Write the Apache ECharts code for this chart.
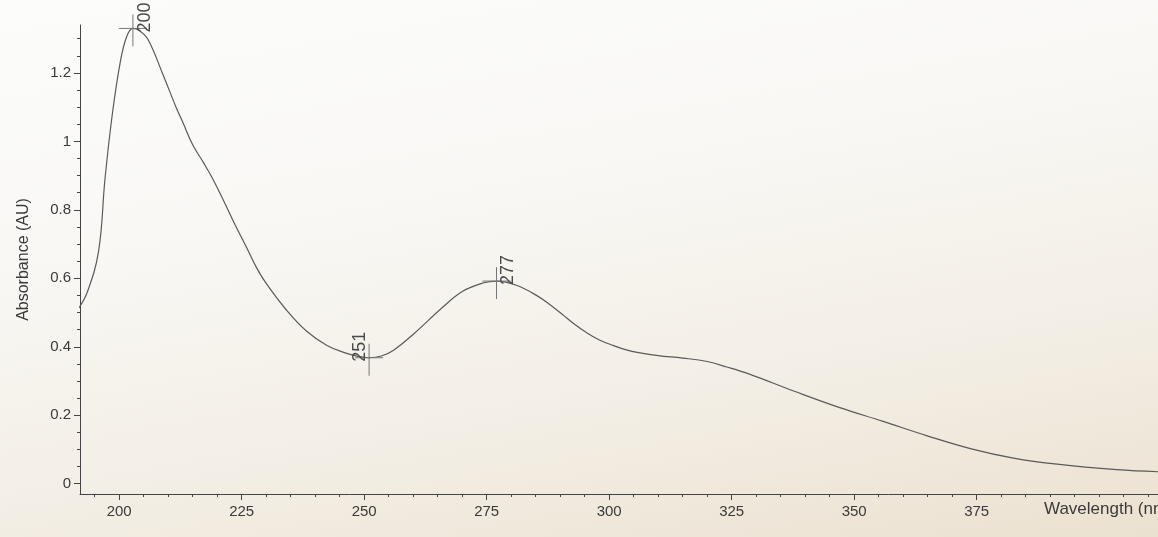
<!DOCTYPE html>
<html>
<head>
<meta charset="utf-8">
<script src="https://cdn.jsdelivr.net/npm/echarts@6/dist/echarts.min.js"></script>
<style>
  html, body { margin: 0; padding: 0; }
  body {
    width: 1158px; height: 537px; overflow: hidden;
    background: linear-gradient(170deg, #fcfcfb 0%, #f9f8f5 35%, #f3eee5 70%, #ebe1d0 100%);
  }
  #chart { width: 1158px; height: 537px; }
</style>
</head>
<body>
<div id="chart"></div>
<script>
// ---- data ----
var wavelengths = [191.6, 193.5, 195.8, 197.1, 198.6, 200.2, 201.5, 202.8, 204.0, 205.8,
  208.8, 211.6, 213.0, 215.0, 217.2, 219.0, 221.6, 223.8, 226.0, 228.0,
  230.0, 234.2, 238.2, 242.4, 246.6, 248.5, 251.0, 253.5, 256.0, 260.2,
  265.9, 270.1, 274.4, 277.0, 281.2, 285.4, 288.0, 290.4, 293.0, 295.2,
  298.0, 300.8, 303.5, 306.0, 310.0, 315.0, 320.0, 324.0, 328.6, 337.8,
  346.9, 355.9, 364.9, 373.9, 382.5, 391.4, 403.6, 412.0];
var absorbance = [0.51, 0.56, 0.68, 0.89, 1.08, 1.23, 1.305, 1.33, 1.325, 1.30,
  1.20, 1.10, 1.055, 0.99, 0.938, 0.893, 0.818, 0.752, 0.69, 0.632,
  0.585, 0.506, 0.446, 0.404, 0.380, 0.373, 0.368, 0.373, 0.39, 0.439,
  0.514, 0.562, 0.587, 0.592, 0.579, 0.548, 0.522, 0.495, 0.465, 0.443,
  0.420, 0.404, 0.391, 0.383, 0.374, 0.367, 0.357, 0.341, 0.320, 0.270,
  0.223, 0.182, 0.140, 0.102, 0.075, 0.057, 0.041, 0.035];

var peakWavelengths = [202.8, 251.0, 277.0];
var peakAbsorbance = [1.33, 0.368, 0.592];
var peakLabels = ['200', '251', '277'];
var peakKinds = ['max', 'min', 'max'];

var xTickValues = [200, 225, 250, 275, 300, 325, 350, 375];
var xMinorTickValues = [195, 205, 210, 215, 220, 230, 235, 240, 245, 255, 260, 265, 270,
  280, 285, 290, 295, 305, 310, 315, 320, 330, 335, 340, 345, 355, 360, 365, 370,
  380, 385, 390, 395, 400, 405, 410];
var yTickValues = [0, 0.2, 0.4, 0.6, 0.8, 1, 1.2];
var yMinorTickValues = [0.05, 0.1, 0.15, 0.25, 0.3, 0.35, 0.45, 0.5, 0.55, 0.65, 0.7, 0.75,
  0.85, 0.9, 0.95, 1.05, 1.1, 1.15, 1.25, 1.3];

var xName = 'Wavelength (nm)';
var yName = 'Absorbance (AU)';

// ---- chart ----
var lineData = wavelengths.map(function (w, i) { return [w, absorbance[i]]; });
var peakData = peakWavelengths.map(function (w, i) {
  return [w, peakAbsorbance[i], peakKinds[i] === 'min' ? 1 : 0, i];
});

var FONT = '"Liberation Sans", Arial, sans-serif';
var AXIS_COLOR = '#444';
var TEXT_COLOR = '#3a3a3a';

var chart = echarts.init(document.getElementById('chart'), null, { renderer: 'canvas' });
chart.setOption({
  backgroundColor: 'transparent',
  animation: false,
  grid: { left: 80, right: 0, top: 25, bottom: 43, containLabel: false, outerBoundsMode: 'none' },
  xAxis: [{
    type: 'value', min: 192, max: 412, position: 'bottom',
    name: xName, nameLocation: 'end', nameGap: -114,
    nameTextStyle: { color: TEXT_COLOR, fontFamily: FONT, fontSize: 17, align: 'left', verticalAlign: 'top', padding: [7, 0, 0, 0] },
    axisLine: { show: true, onZero: false, lineStyle: { color: AXIS_COLOR, width: 1 } },
    axisTick: { show: true, length: 6, customValues: xTickValues, lineStyle: { color: AXIS_COLOR } },
    axisLabel: { customValues: xTickValues, margin: 10, color: TEXT_COLOR, fontFamily: FONT, fontSize: 15 },
    splitLine: { show: false }
  }, {
    type: 'value', min: 192, max: 412, position: 'bottom', gridIndex: 0, offset: 0,
    axisLine: { show: false, onZero: false },
    axisTick: { show: true, length: 3, customValues: xMinorTickValues, lineStyle: { color: AXIS_COLOR } },
    axisLabel: { show: false },
    splitLine: { show: false }
  }],
  yAxis: [{
    type: 'value', min: -0.03, max: 1.34, position: 'left',
    name: yName, nameLocation: 'middle', nameGap: 48,
    nameTextStyle: { color: TEXT_COLOR, fontFamily: FONT, fontSize: 16 },
    axisLine: { show: true, onZero: false, lineStyle: { color: AXIS_COLOR, width: 1 } },
    axisTick: { show: true, length: 6, customValues: yTickValues, lineStyle: { color: AXIS_COLOR } },
    axisLabel: { customValues: yTickValues, margin: 9, color: TEXT_COLOR, fontFamily: FONT, fontSize: 15 },
    splitLine: { show: false }
  }, {
    type: 'value', min: -0.03, max: 1.34, position: 'left', gridIndex: 0, offset: 0,
    axisLine: { show: false, onZero: false },
    axisTick: { show: true, length: 3, customValues: yMinorTickValues, lineStyle: { color: AXIS_COLOR } },
    axisLabel: { show: false },
    splitLine: { show: false }
  }],
  series: [{
    type: 'line', xAxisIndex: 0, yAxisIndex: 0,
    data: lineData, showSymbol: false, smooth: 0.4, clip: true,
    lineStyle: { color: '#5a5a5a', width: 1.2 }
  }, {
    type: 'custom', xAxisIndex: 0, yAxisIndex: 0,
    data: peakData, clip: false, z: 5,
    renderItem: function (params, api) {
      var p = api.coord([api.value(0), api.value(1)]);
      var isMin = api.value(2) === 1;
      var label = peakLabels[api.value(3)];
      return {
        type: 'group',
        children: [
          { type: 'line', shape: { x1: p[0] - 14, y1: p[1], x2: p[0] + 14, y2: p[1] },
            style: { stroke: '#777', lineWidth: 1 } },
          { type: 'line', shape: { x1: p[0], y1: p[1] - 14, x2: p[0], y2: p[1] + 18 },
            style: { stroke: '#777', lineWidth: 1 } },
          { type: 'text', x: p[0] + (isMin ? -9 : 12), y: p[1] + 4, rotation: Math.PI / 2,
            style: { text: label, fill: '#4a4a4a', font: '18px ' + FONT, align: 'left', verticalAlign: 'middle' } }
        ]
      };
    }
  }]
});
</script>
</body>
</html>
